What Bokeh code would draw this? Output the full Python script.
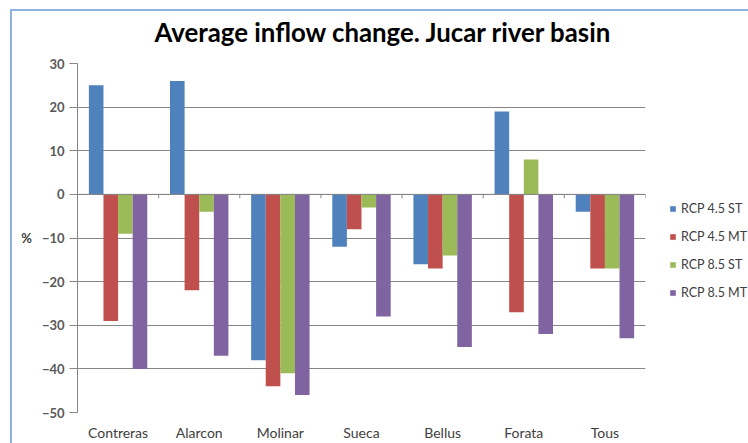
from bokeh.plotting import figure
from bokeh.layouts import row
from bokeh.models import (ColumnDataSource, FixedTicker, Legend, LegendItem, Span)
from bokeh.transform import dodge
from bokeh.embed import file_html
from bokeh.resources import INLINE

# Average inflow change (%) per reservoir and climate scenario
sites = ["Contreras", "Alarcon", "Molinar", "Sueca", "Bellus", "Forata", "Tous"]
rcp45_st = [25, 26, -38, -12, -16, 19, -4]
rcp45_mt = [-29, -22, -44, -8, -17, -27, -17]
rcp85_st = [-9, -4, -41, -3, -14, 8, -17]
rcp85_mt = [-40, -37, -46, -28, -35, -32, -33]
series_names = ["RCP 4.5 ST", "RCP 4.5 MT", "RCP 8.5 ST", "RCP 8.5 MT"]
y_ticks = [-50, -40, -30, -20, -10, 0, 10, 20, 30]

colors = ["#4F81BD", "#C0504D", "#9BBB59", "#8064A2"]
columns = ["s1", "s2", "s3", "s4"]
FONT = "Lato"
AXIS_GRAY = "#868686"
BORDER_BLUE = "#8DB3E2"
LINE = f"linear-gradient({BORDER_BLUE}, {BORDER_BLUE})"

src = ColumnDataSource(dict(site=sites, s1=rcp45_st, s2=rcp45_mt, s3=rcp85_st, s4=rcp85_mt))

bw = 0.18
offsets = [-1.5 * bw, -0.5 * bw, 0.5 * bw, 1.5 * bw]

# ---- main chart -------------------------------------------------------------
p = figure(x_range=sites, y_range=(min(y_ticks), max(y_ticks)),
           width=648, height=443, output_backend="svg", toolbar_location=None,
           min_border_left=77, min_border_right=3, min_border_top=63,
           min_border_bottom=30)
p.x_range.range_padding = 0
p.outline_line_color = None
p.background_fill_color = "white"
# transparent canvas border so the chart-area frame drawn by CSS shows through
p.border_fill_color = None
p.styles = {"background": f"{LINE} 10px 9px / 2px 100% no-repeat, "
                          f"{LINE} 10px 9px / 100% 2px no-repeat, white"}

bars = []
for col, off, c in zip(columns, offsets, colors):
    bars.append(p.vbar(x=dodge("site", off, range=p.x_range), top=col, bottom=0, width=bw,
                       source=src, fill_color=c, line_color=None))

# horizontal axis line at zero with tick marks between categories
p.add_layout(Span(location=0, dimension="width", line_color=AXIS_GRAY, line_width=1))
p.segment(x0=dodge("site", 0.5, range=p.x_range), x1=dodge("site", 0.5, range=p.x_range),
          y0=0, y1=-0.9, source=src, line_color=AXIS_GRAY, line_width=1)

# y axis
p.yaxis.ticker = FixedTicker(ticks=y_ticks)
p.yaxis.axis_line_color = AXIS_GRAY
p.yaxis.major_tick_line_color = AXIS_GRAY
p.yaxis.major_tick_out = 8
p.yaxis.major_tick_in = 0
p.yaxis.minor_tick_line_color = None
p.yaxis.major_label_text_font = FONT
p.yaxis.major_label_text_font_size = "13px"
p.yaxis.major_label_text_font_style = "bold"
p.yaxis.major_label_text_color = "#595959"
p.yaxis.major_label_standoff = 5
p.yaxis.axis_label = "%"
p.yaxis.axis_label_orientation = "horizontal"
p.yaxis.axis_label_text_font = FONT
p.yaxis.axis_label_text_font_size = "13px"
p.yaxis.axis_label_text_font_style = "bold"
p.yaxis.axis_label_text_color = "#404040"
p.yaxis.axis_label_standoff = 7

p.ygrid.grid_line_color = AXIS_GRAY
p.ygrid.grid_line_width = 1
p.xgrid.grid_line_color = None

# x axis: category labels only
p.xaxis.axis_line_color = None
p.xaxis.major_tick_line_color = None
p.xaxis.major_tick_out = 0
p.xaxis.major_tick_in = 0
p.xaxis.minor_tick_line_color = None
p.xaxis.major_label_text_font = FONT
p.xaxis.major_label_text_font_size = "14px"
p.xaxis.major_label_text_color = "#404040"
p.xaxis.major_label_standoff = 11

# title
p.title.text = "Average inflow change. Jucar river basin"
p.title.align = "left"
p.title.offset = 77
p.title.vertical_align = "top"
p.title.standoff = 29
p.title.text_font = FONT
p.title.text_font_size = "25.8px"
p.title.text_font_style = "bold"
p.title.text_color = "#000000"

# ---- legend panel to the right of the plot area -------------------------------
lg = figure(x_range=sites, y_range=(1000, 1001), width=100, height=443,
            output_backend="svg", toolbar_location=None,
            x_axis_location=None, y_axis_location=None, min_border=0)
lg.outline_line_color = None
lg.border_fill_color = None
lg.background_fill_color = None
lg.grid.grid_line_color = None
lg.styles = {"background": f"{LINE} 0px 9px / 100% 2px no-repeat, white"}

# legend swatches: same series as zero-width bars outside this panel's visible range
keys = []
for col, off, c in zip(columns, offsets, colors):
    keys.append(lg.vbar(x=dodge("site", off, range=lg.x_range), top=col, bottom=0, width=0,
                        source=src, fill_color=c, line_color=None))

legend = Legend(items=[LegendItem(label=n, renderers=[r]) for n, r in zip(series_names, keys)],
                location=(21, 112), orientation="vertical",
                glyph_width=7, glyph_height=7, label_height=15, spacing=13,
                label_standoff=5, padding=0, margin=0,
                label_text_font=FONT, label_text_font_size="12.5px",
                label_text_color="#404040",
                border_line_color=None, background_fill_alpha=0)
lg.add_layout(legend)

open("out.html", "w").write(file_html(row(p, lg), INLINE))
